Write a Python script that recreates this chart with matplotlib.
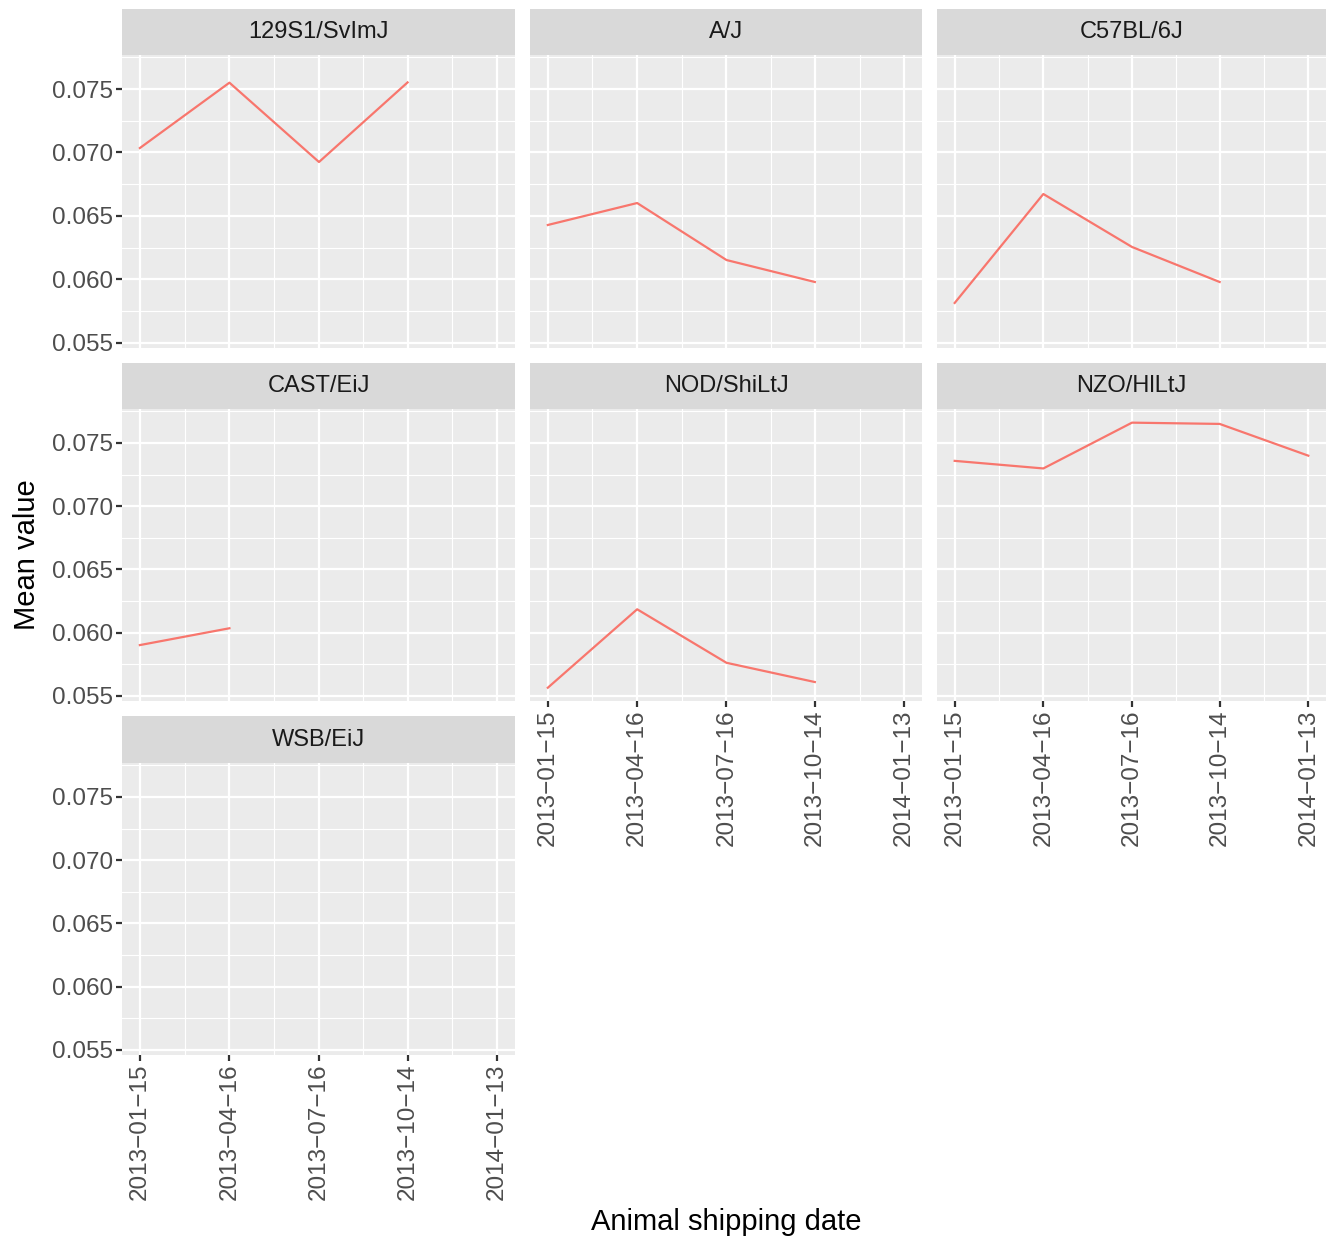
import numpy as np
import matplotlib
matplotlib.use("Agg")
from matplotlib import pyplot as plt
from matplotlib.ticker import FixedLocator, FuncFormatter
import matplotlib.dates as mdates

plt.rcParams['font.family'] = ['Liberation Sans', 'DejaVu Sans']

# Data
strains = ['129S1/SvImJ', 'A/J', 'C57BL/6J', 'CAST/EiJ', 'NOD/ShiLtJ', 'NZO/HlLtJ', 'WSB/EiJ']
date_labels = ['2013-01-15', '2013-04-16', '2013-07-16', '2013-10-14', '2014-01-13']
dates = np.array(date_labels, dtype='datetime64[D]')

vals_129 = [0.07035, 0.07550, 0.06925, 0.07552]
vals_aj = [0.06429, 0.06602, 0.06153, 0.05980]
vals_c57 = [0.05815, 0.06673, 0.06256, 0.05980]
vals_cast = [0.05902, 0.06035]
vals_nod = [0.05565, 0.06185, 0.05762, 0.05610]
vals_nzo = [0.07358, 0.07298, 0.07660, 0.07650, 0.07399]
vals_wsb = []
series = [vals_129, vals_aj, vals_c57, vals_cast, vals_nod, vals_nzo, vals_wsb]

y_breaks = [0.055, 0.060, 0.065, 0.070, 0.075]

W, H = 1326, 1239
fig = plt.figure(figsize=(W / 100, H / 100), dpi=100)

col_x = [(122, 515), (530, 922), (937, 1326)]
row_y = [(9, 55, 348), (363, 409, 701), (716, 763, 1055)]

xnum = mdates.date2num(dates.astype('datetime64[s]').astype(object))
xr = xnum[-1] - xnum[0]
xlim = (xnum[0] - 0.05 * xr, xnum[-1] + 0.05 * xr)
ymin, ymax = 0.05565, 0.07663
yr = ymax - ymin
ylim = (ymin - 0.05 * yr, ymax + 0.05 * yr)
x_minor = list((xnum[:-1] + xnum[1:]) / 2)

grey_txt = '#4D4D4D'
shown_dates = [d.replace('-', '\u2212') for d in date_labels]

def fx(px):
    return px / W

def fy(py):
    return 1 - py / H

for k, name in enumerate(strains):
    r, c = divmod(k, 3)
    x0, x1 = col_x[c]
    s0, p0, p1 = row_y[r]
    ax = fig.add_axes([fx(x0), fy(p1), fx(x1 - x0), (p1 - p0) / H])
    ax.set_facecolor('#EBEBEB')
    for sp in ax.spines.values():
        sp.set_visible(False)
    ax.set_xlim(*xlim)
    ax.set_ylim(*ylim)
    ax.xaxis.set_major_locator(FixedLocator(xnum))
    ax.xaxis.set_minor_locator(FixedLocator(x_minor))
    ax.yaxis.set_major_locator(FixedLocator(y_breaks))
    ax.yaxis.set_minor_locator(FixedLocator([0.0525, 0.0575, 0.0625, 0.0675, 0.0725, 0.0775]))
    ax.grid(which='major', color='white', linewidth=1.6)
    ax.grid(which='minor', color='white', linewidth=0.8)
    ax.set_axisbelow(True)
    ax.tick_params(which='minor', length=0)
    ax.tick_params(which='major', length=4.3, width=1.6, color='#333333',
                   labelsize=17.5, labelcolor=grey_txt, pad=2)

    show_y = (c == 0)
    show_x = (k >= 4)
    ax.tick_params(axis='y', left=show_y, labelleft=show_y)
    ax.tick_params(axis='x', bottom=show_x, labelbottom=show_x)
    ax.yaxis.set_major_formatter(FuncFormatter(lambda v, p: '%.3f' % v))
    ax.set_xticklabels(shown_dates if show_x else [], rotation=90)

    vals = series[k]
    if len(vals) > 0:
        ax.plot(xnum[:len(vals)], vals, color='#F8766D', linewidth=1.6)

    # strip
    sax = fig.add_axes([fx(x0), fy(p0), fx(x1 - x0), (p0 - s0) / H])
    sax.set_facecolor('#D9D9D9')
    sax.set_xticks([])
    sax.set_yticks([])
    for sp in sax.spines.values():
        sp.set_visible(False)
    sax.text(0.5, 0.5, name, ha='center', va='center', fontsize=17,
             color='#1A1A1A', transform=sax.transAxes)

fig.text(fx(726), fy(1222), 'Animal shipping date', ha='center', va='center',
         fontsize=21, color='black')
fig.text(fx(27), fy(555), 'Mean value', ha='center', va='center',
         rotation=90, fontsize=21, color='black')

fig.savefig('out.png', dpi=100, facecolor='white')
